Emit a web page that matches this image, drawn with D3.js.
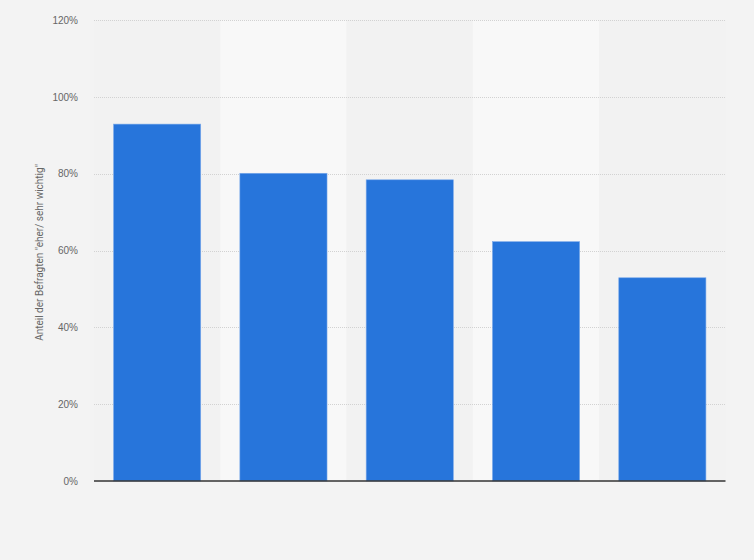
<!DOCTYPE html>
<meta charset="utf-8">
<style>
  body {
    margin: 0;
    background: #f3f3f3;
    font-family: Roboto, "Liberation Sans", sans-serif;
  }
  svg { display: block; }
  .tick text { fill: #666; font-size: 10px; }
</style>
<body>
  <svg id="chart" width="754" height="560"></svg>

  <script src="https://d3js.org/d3.v7.min.js"></script>
  <script>
    // x-axis labels are not shown in the picture
    const categories = ["A", "B", "C", "D", "E"];
    const values = [92.9, 80.1, 78.4, 62.3, 52.9];
    const yTicks = [0, 20, 40, 60, 80, 100, 120];
    const yTitle = "Anteil der Befragten \"eher/ sehr wichtig\"";

    const svg = d3.select("#chart");
    const plotLeft = 94, plotRight = 725.5, plotTop = 20, plotBottom = 481;

    const x = d3.scaleBand()
      .domain(categories)
      .range([plotLeft, plotRight])
      .paddingInner(0.31)
      .paddingOuter(0.155);

    const y = d3.scaleLinear()
      .domain([0, 120])
      .range([plotBottom, plotTop]);

    // alternating column bands
    const step = (plotRight - plotLeft) / categories.length;
    svg.append("g")
      .selectAll("rect")
      .data(categories)
      .join("rect")
      .attr("x", (d, i) => plotLeft + i * step)
      .attr("y", plotTop)
      .attr("width", step)
      .attr("height", plotBottom - plotTop)
      .attr("fill", (d, i) => i % 2 === 1 ? "#f8f8f8" : "#f2f2f2");

    // grid lines
    svg.append("g")
      .selectAll("line")
      .data(yTicks.filter(t => t > 0))
      .join("line")
      .attr("x1", plotLeft)
      .attr("x2", plotRight)
      .attr("y1", d => Math.round(y(d)) + 0.5)
      .attr("y2", d => Math.round(y(d)) + 0.5)
      .attr("stroke", "#d2d2d2")
      .attr("stroke-dasharray", "1,1");

    // y axis labels
    const yAxis = svg.append("g")
      .attr("transform", `translate(${plotLeft},0)`)
      .call(d3.axisLeft(y).tickValues(yTicks).tickSize(0).tickPadding(16).tickFormat(d => d + "%"));
    yAxis.select(".domain").remove();

    // bars
    svg.append("g")
      .selectAll("rect")
      .data(values)
      .join("rect")
      .attr("x", (d, i) => x(categories[i]))
      .attr("y", d => y(d))
      .attr("width", x.bandwidth())
      .attr("height", d => plotBottom - y(d))
      .attr("fill", "#2775db")
      .attr("stroke", "#7aa9ea")
      .attr("stroke-width", 0.6);

    // baseline
    svg.append("line")
      .attr("x1", plotLeft)
      .attr("x2", plotRight)
      .attr("y1", plotBottom)
      .attr("y2", plotBottom)
      .attr("stroke", "#333")
      .attr("stroke-width", 1.3);

    // y title
    svg.append("text")
      .attr("transform", `translate(43,${(plotTop + plotBottom) / 2 + 2}) rotate(-90)`)
      .attr("text-anchor", "middle")
      .attr("fill", "#666")
      .attr("font-size", "10px")
      .text(yTitle);
  </script>
</body>
